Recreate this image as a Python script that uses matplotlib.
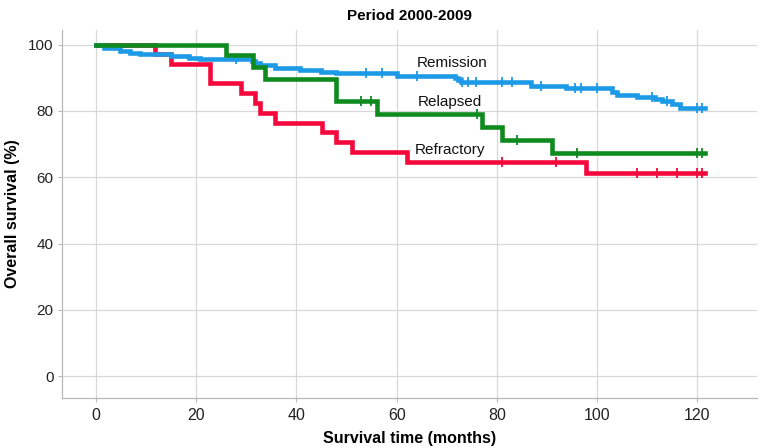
import numpy as np
import matplotlib
matplotlib.use("Agg")
import matplotlib.pyplot as plt

# --- DATA ---
# Kaplan-Meier step curves: event times (months) and survival (%) after each step
remission_t = [0, 1.5, 4.7, 6.7, 8.8, 15.0, 18.6, 20.8, 31.1, 31.8, 32.8, 35.8, 40.8,
               44.8, 47.8, 60.0, 71.7, 72.3, 72.8, 86.8, 93.8, 102.9, 103.9, 107.9,
               111.6, 112.9, 114.9, 116.6]
remission_s = [100, 99.0, 98.2, 97.6, 97.1, 96.6, 96.1, 95.6, 95.1, 94.5, 94.0, 92.8, 92.2,
               91.7, 91.3, 90.5, 89.9, 89.3, 88.8, 87.6, 86.9, 85.6, 84.8, 84.2,
               83.6, 83.0, 82.0, 80.8]
remission_cens = [28.0, 53.9, 57.0, 64.0, 73.0, 74.2, 75.8, 81.0, 83.0, 88.8, 95.7, 96.8,
                  100.0, 110.9, 114.0, 120.0, 121.0]

relapsed_t = [0, 25.9, 31.4, 33.7, 47.9, 56.0, 77.0, 81.0, 91.1]
relapsed_s = [100, 96.8, 93.3, 89.7, 83.0, 79.2, 75.2, 71.3, 67.2]
relapsed_cens = [52.9, 54.9, 76.0, 84.0, 96.1, 120.0, 121.0]

refractory_t = [0, 11.8, 14.9, 22.8, 28.9, 31.7, 32.7, 35.7, 45.0, 47.9, 51.0, 62.0, 97.9]
refractory_s = [100, 97.1, 94.2, 88.3, 85.3, 82.4, 79.4, 76.5, 73.5, 70.6, 67.6, 64.7, 61.3]
refractory_cens = [81.0, 91.9, 108.0, 112.0, 116.0, 120.0, 121.0]

END_TIME = 121.6

x_ticks = [0, 20, 40, 60, 80, 100, 120]
y_ticks = [0, 20, 40, 60, 80, 100]


def draw_km(ax, t, s, cens, color, z):
    t = list(t) + [END_TIME]
    s = list(s) + [s[-1]]
    ax.step(t, s, where="post", color=color, lw=3.3, zorder=z,
            solid_joinstyle="miter")
    # censor marks sit on the curve value at that time
    idx = np.searchsorted(np.array(t), np.array(cens), side="right") - 1
    cs = np.array(s)[idx]
    ax.plot(cens, cs, linestyle="none", marker="|", markersize=7,
            markeredgewidth=1.3, color=color, zorder=z)


plt.rcParams["font.family"] = ["Liberation Sans", "DejaVu Sans"]

fig = plt.figure(figsize=(7.66, 4.48), dpi=100)
ax = fig.add_axes([0.081, 0.112, 0.907, 0.821])

draw_km(ax, refractory_t, refractory_s, refractory_cens, "#f5083c", 3)
draw_km(ax, remission_t, remission_s, remission_cens, "#1c9ae6", 4)
draw_km(ax, relapsed_t, relapsed_s, relapsed_cens, "#0f8a1e", 5)

ax.text(71.1, 94.5, "Remission", ha="center", va="center", fontsize=11, color="#111111")
ax.text(70.7, 82.7, "Relapsed", ha="center", va="center", fontsize=11, color="#111111")
ax.text(70.7, 68.2, "Refractory", ha="center", va="center", fontsize=11, color="#111111")

ax.set_xlim(-6.8, 131.9)
ax.set_ylim(-6.5, 104.4)
ax.set_xticks(x_ticks)
ax.set_yticks(y_ticks)
ax.grid(True, color="#d8d8d8", lw=0.9)
ax.set_axisbelow(True)

for side in ["top", "right"]:
    ax.spines[side].set_visible(False)
for side in ["left", "bottom"]:
    ax.spines[side].set_color("#b8b8b8")
    ax.spines[side].set_linewidth(0.9)
ax.tick_params(colors="#b8b8b8", labelcolor="#222222", labelsize=11.5, length=3)
ax.tick_params(axis="x", pad=4)
ax.tick_params(axis="y", labelsize=11, pad=3)

ax.set_title("Period 2000-2009", fontsize=11, fontweight="bold", pad=7)
ax.set_xlabel("Survival time (months)", fontsize=11.5, fontweight="bold", labelpad=6)
ax.set_ylabel("Overall survival (%)", fontsize=11.5, fontweight="bold", labelpad=6)

fig.savefig("out.png", dpi=100)
